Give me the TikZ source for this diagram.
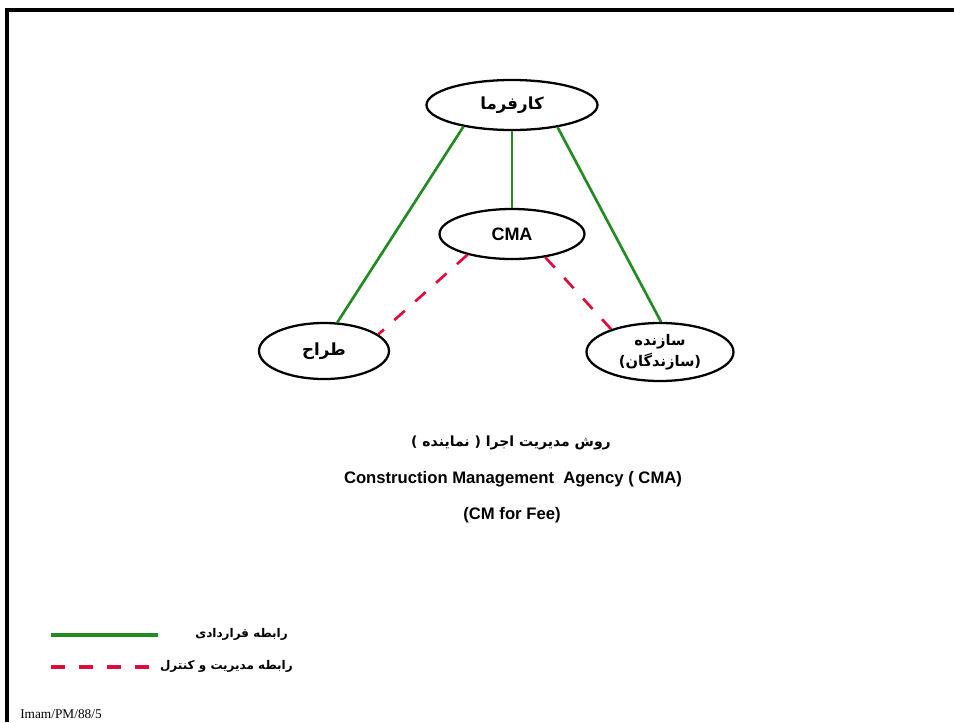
\documentclass[tikz,border=0pt]{standalone}
\usepackage{fontspec}
\setmainfont{Liberation Sans}
\newfontfamily\fa[Script=Arabic]{DejaVu Sans}
\newfontfamily\tms{Liberation Serif}
\TeXXeTstate=1
\usetikzlibrary{shapes.geometric}
\definecolor{cgreen}{RGB}{34,139,34}
\definecolor{cred}{RGB}{225,10,60}
\begin{document}
\begin{tikzpicture}[x=0.75pt,y=-0.75pt,
  ell/.style={draw, line width=1.7pt, ellipse, inner sep=0pt, align=center,
    font=\fa\bfseries\fontsize{12.5}{15}\selectfont},
  contract/.style={draw=cgreen, line width=2pt},
  mgmt/.style={draw=cred, line width=2pt, dash pattern=on 10.5pt off 10.5pt},
  lbl/.style={inner sep=0pt, font=\fa\bfseries\fontsize{9}{11}\selectfont},
  ttl/.style={inner sep=0pt, font=\bfseries\fontsize{12.5}{15}\selectfont}]
\useasboundingbox (0,0) rectangle (954,722);
\draw[line width=2.4pt] (954,10) -- (7,10) -- (7,722);

\node[ell, minimum width=128.25pt, minimum height=37.5pt] (k) at (512,105) {\beginR کارفرما\endR};
\node[ell, minimum width=108.75pt, minimum height=37.5pt, font=\bfseries\fontsize{13.5}{16}\selectfont] (c) at (512,234) {CMA};
\node[ell, minimum width=97.5pt, minimum height=42pt] (t) at (324,351) {\beginR طراح\endR};
\node[ell, minimum width=110.25pt, minimum height=43.5pt, font=\fa\bfseries\fontsize{11}{15.5}\selectfont] (s) at (660,352) {\beginR سازنده\endR\\\beginR (سازندگان)\endR};

\draw[contract] (k.south) -- (c.north);
\draw[contract] (k.204) -- (t.65);
\draw[contract] (k.334) -- (s.88);
\draw[mgmt] (c.205) -- (t.17);
\draw[mgmt] (c.325) -- (s.155);

\node[ttl, font=\fa\bfseries\fontsize{10.5}{12}\selectfont] (h1) at (511,443) {\beginR روش مدیریت اجرا ( نماینده )\endR};
\node[ttl] (h2) at (513,479) {Construction Management\ \ Agency ( CMA)};
\node[ttl] (h3) at (512,515) {(CM for Fee)};

\coordinate (g1) at (51,635);
\coordinate (g2) at (158,635);
\coordinate (r1) at (51,667);
\coordinate (r2) at (151,667);
\draw[contract, line width=2.6pt] (g1) -- (g2);
\draw[mgmt, line width=2.6pt] (r1) -- (r2);
\node[lbl, anchor=east] (l1) at (288,634) {\beginR رابطه قراردادی\endR};
\node[lbl, anchor=east] (l2) at (293,666) {\beginR رابطه مدیریت و کنترل\endR};

\node[inner sep=0pt, anchor=west, font=\tms\fontsize{10}{12}\selectfont] (ft) at (20,714) {Imam/PM/88/5};
\end{tikzpicture}
\end{document}
